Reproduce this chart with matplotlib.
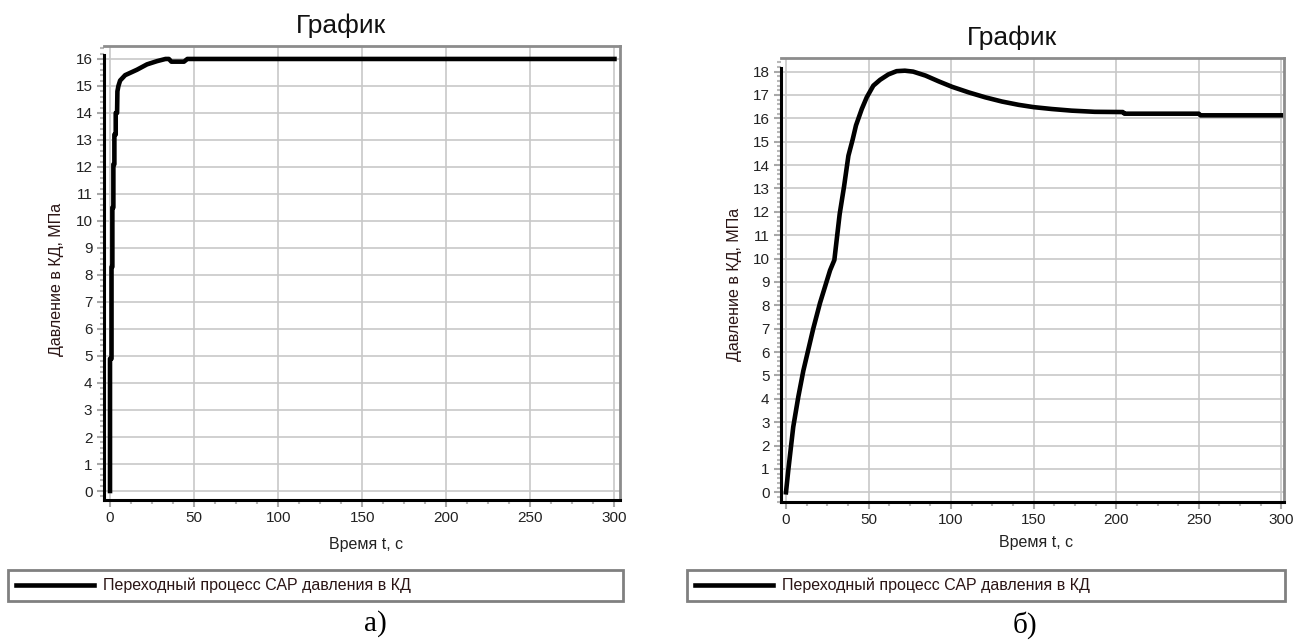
import matplotlib.pyplot as plt
from matplotlib.ticker import MultipleLocator

W, H = 1294, 643

# --- данные (а) ---
t_a = [0, 0, 0.9, 0.9, 1.4, 1.4, 2.0, 2.0, 2.6, 2.6, 3.4, 3.4, 4.2, 4.4, 5, 6, 9,
       16, 22, 28, 33, 35, 36.5, 44, 46, 300]
p_a = [0, 4.9, 4.9, 8.3, 8.3, 10.5, 10.5, 12.1, 12.1, 13.2, 13.2, 14.0, 14.0, 14.8,
       15.0, 15.2, 15.4, 15.6, 15.8, 15.92, 16.0, 16.0, 15.9, 15.9, 16.0, 16.0]

# --- данные (б) ---
t_b = [0, 1.4, 4.4, 7.5, 10.5, 13.5, 16.5, 20.6, 26.7, 29.3, 30.7, 32.5, 35.2,
       37.8, 40.4, 42.4, 45.9, 48.9, 52.9, 57, 62, 67, 72, 77, 84.5, 92.6, 100.6,
       110.7, 120.7, 130.8, 140.8, 150, 161, 173, 187, 204, 205, 250, 251, 300]
p_b = [0, 0.95, 2.8, 4.1, 5.2, 6.1, 7.0, 8.1, 9.5, 9.94, 10.8, 11.9, 13.1,
       14.4, 15.1, 15.7, 16.4, 16.9, 17.4, 17.65, 17.88, 18.02, 18.04, 18.0, 17.83,
       17.58, 17.35, 17.11, 16.9, 16.72, 16.58, 16.48, 16.4, 16.33, 16.28, 16.27,
       16.2, 16.2, 16.13, 16.13]

title = "График"
xlabel = "Время t, с"
ylabel = "Давление в КД, МПа"
series_name = "Переходный процесс САР давления в КД"

plt.rcParams['font.family'] = ['Liberation Sans', 'DejaVu Sans']

fig = plt.figure(figsize=(W / 100, H / 100), dpi=100)


def box(x0, y0, x1, y1):
    # пиксели -> доли фигуры
    return [x0 / W, 1 - y1 / H, (x1 - x0) / W, (y1 - y0) / H]


def make_chart(rect, t, p, xlim, ylim, ytop, ymax_tick, title_xy, ylab_xy, xlab_xy,
               leg_rect, cap, cap_xy):
    ax = fig.add_axes(box(*rect))
    ax.plot(t, p, color='black', lw=3.3, label=series_name, solid_joinstyle='round')
    ax.set_xlim(*xlim)
    ax.set_ylim(*ylim)
    ax.xaxis.set_major_locator(MultipleLocator(50))
    ax.xaxis.set_minor_locator(MultipleLocator(12.5))
    ax.set_yticks(range(0, ymax_tick + 1))
    ax.yaxis.set_minor_locator(MultipleLocator(0.2))
    ax.grid(True, which='major', color='#c8c8c8', lw=1.2)
    ax.set_axisbelow(True)
    for s in ['top', 'right']:
        ax.spines[s].set_color('#8c8c8c')
        ax.spines[s].set_linewidth(2)
    ax.spines['left'].set_color('black')
    ax.spines['left'].set_linewidth(2.2)
    ax.spines['left'].set_bounds(ylim[0], ytop)
    ax.spines['bottom'].set_color('black')
    ax.spines['bottom'].set_linewidth(2.2)
    ax.tick_params(which='major', length=5, width=1.5, color='#a8a8a8',
                   labelsize=11, labelcolor='#222222', pad=3)
    ax.tick_params(which='minor', length=3, width=1.5, color='#b8b8b8')

    fig.text(title_xy[0] / W, 1 - title_xy[1] / H, title, ha='center', va='center',
             fontsize=19, color='#111111')
    fig.text(ylab_xy[0] / W, 1 - ylab_xy[1] / H, ylabel, ha='center', va='center',
             rotation=90, fontsize=11.5, color='#2a1515')
    fig.text(xlab_xy[0] / W, 1 - xlab_xy[1] / H, xlabel, ha='center', va='center',
             fontsize=11.5, color='#222222')

    leg = ax.legend(loc='upper left', bbox_to_anchor=box(*leg_rect),
                    bbox_transform=fig.transFigure, mode='expand', borderaxespad=0,
                    fancybox=False, edgecolor='#808080', fontsize=11.5,
                    handlelength=4.9, handletextpad=0.55, borderpad=0.5,
                    framealpha=1)
    leg.get_frame().set_linewidth(2)
    for txt in leg.get_texts():
        txt.set_color('#2a1515')

    fig.text(cap_xy[0] / W, 1 - cap_xy[1] / H, cap, ha='center', va='center',
             fontsize=21, family='Liberation Serif')
    return ax


make_chart((103.5, 46, 620, 500), t_a, p_a, (-3.87, 303.3), (-0.333, 16.48), 16.15, 16,
           (341, 26), (57, 279), (366, 545), (8, 570, 623, 605), "а)", (375, 624))

make_chart((780.7, 58.3, 1284, 502), t_b, p_b, (-3.2, 301.6), (-0.415, 18.57), 18.16, 18,
           (1012, 38), (734, 284), (1036, 543), (687, 570, 1285, 603), "б)", (1025, 625))

fig.savefig('out.png', dpi=100)
